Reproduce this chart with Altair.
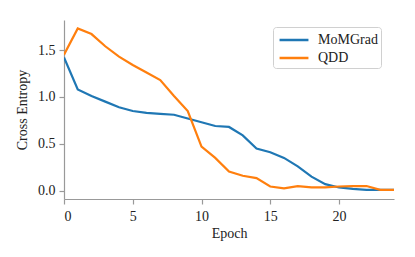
import altair as alt
import pandas as pd

epochs = list(range(25))
momgrad = [1.42, 1.08, 1.01, 0.95, 0.89, 0.85, 0.83, 0.82, 0.81, 0.77, 0.73, 0.69, 0.68,
           0.59, 0.45, 0.41, 0.35, 0.26, 0.15, 0.07, 0.035, 0.02, 0.01, 0.01, 0.01]
qdd = [1.45, 1.73, 1.67, 1.54, 1.43, 1.34, 1.26, 1.18, 1.01, 0.85, 0.47, 0.35, 0.205,
       0.16, 0.135, 0.045, 0.025, 0.05, 0.035, 0.035, 0.045, 0.05, 0.05, 0.01, 0.01]
series = ["MoMGrad", "QDD"]
colors = ["#1f77b4", "#ff7f0e"]
x_ticks = [0, 5, 10, 15, 20]
y_ticks = [0.0, 0.5, 1.0, 1.5]

rows = []
for name, vals in zip(series, [momgrad, qdd]):
    for e, v in zip(epochs, vals):
        rows.append({"Epoch": e, "value": v, "method": name})
df = pd.DataFrame(rows)

FONT = "Liberation Serif"

chart = alt.Chart(df).mark_line(strokeWidth=2.2, clip=True).encode(
    x=alt.X("Epoch:Q", scale=alt.Scale(domain=[0, 24], nice=False, zero=False),
            axis=alt.Axis(values=x_ticks, title="Epoch", format="d")),
    y=alt.Y("value:Q", scale=alt.Scale(domain=[-0.088, 1.82], nice=False, zero=False),
            axis=alt.Axis(values=y_ticks, title="Cross Entropy", format=".1f")),
    color=alt.Color("method:N", scale=alt.Scale(domain=series, range=colors),
                    legend=alt.Legend(title=None, orient="none", legendX=209, legendY=7,
                                      symbolType="M-1.7,0H1.7", symbolSize=289,
                                      symbolStrokeWidth=2.5, symbolFillColor="transparent",
                                      symbolOffset=8, fillColor="white",
                                      strokeColor="#d0d0d0", cornerRadius=3,
                                      padding=3, rowPadding=1,
                                      labelFont=FONT, labelFontSize=14,
                                      labelColor="#222", labelOffset=14)),
).properties(
    width=330, height=179,
    padding={"left": 56, "top": 12, "right": 13, "bottom": 50},
    autosize=alt.AutoSizeParams(type="none"),
).configure_view(stroke=None).configure_axis(
    grid=False, domainColor="#999", tickColor="#999", domainWidth=1.2, tickWidth=1.2,
    tickSize=5, labelFont=FONT, titleFont=FONT, labelFontSize=14, titleFontSize=14,
    labelColor="#222", titleColor="#222", titleFontWeight="normal", labelPadding=4,
).configure_axisX(titlePadding=3, labelPadding=5).configure_axisY(titlePadding=8)

chart.save("out.html", embed_options={"renderer": "svg", "actions": False})
